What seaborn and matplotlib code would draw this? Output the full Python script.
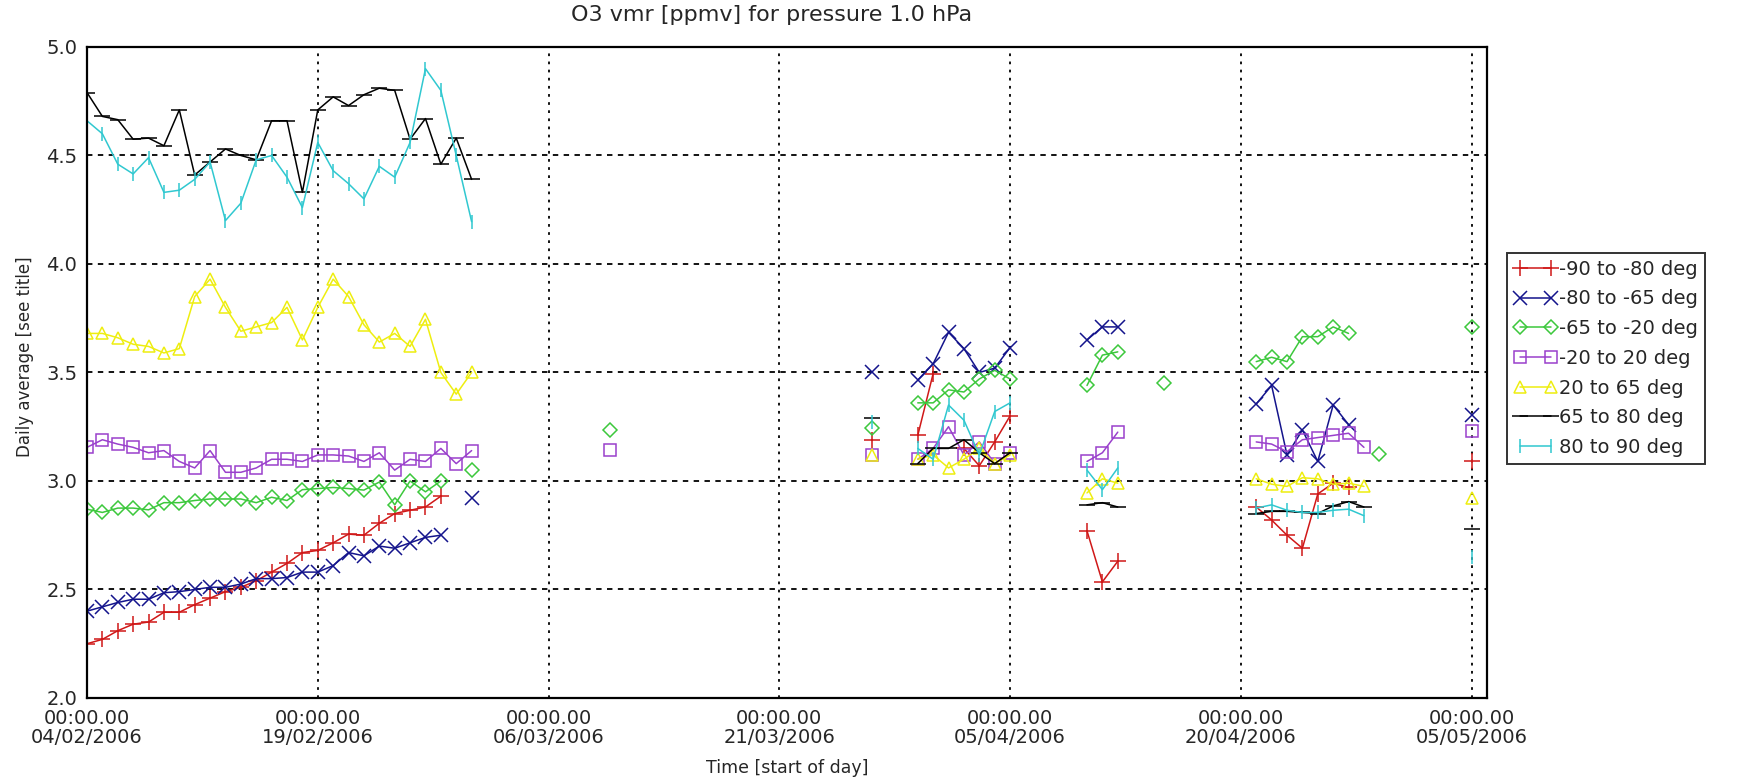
import numpy as np
import pandas as pd
import matplotlib
matplotlib.use("Agg")
import matplotlib.pyplot as plt
from matplotlib.lines import Line2D
import seaborn as sns

nan = np.nan

# days since 04/02/2006 that have at least one band with data
days = list(range(0, 26)) + [34, 51] + list(range(54, 61)) + [65, 66, 67, 70] + list(range(76, 85)) + [90]

band_m90_m80 = [2.25, 2.27, 2.31, 2.34, 2.35, 2.395, 2.395, 2.43, 2.46, 2.49, 2.51, 2.54, 2.58, 2.62, 2.67, 2.68,
                2.715, 2.755, 2.75, 2.805, 2.85, 2.865, 2.88, 2.93, nan, nan,
                nan, 3.19,
                3.21, 3.495, nan, 3.15, 3.07, 3.18, 3.30,
                2.77, 2.535, 2.63, nan,
                2.88, 2.82, 2.75, 2.69, 2.94, 2.99, 2.97, nan, nan,
                3.09]
band_m80_m65 = [2.40, 2.42, 2.44, 2.455, 2.455, 2.485, 2.49, 2.50, 2.51, 2.51, 2.525, 2.55, 2.55, 2.555, 2.58, 2.58,
                2.61, 2.67, 2.655, 2.70, 2.69, 2.715, 2.74, 2.75, nan, 2.92,
                nan, 3.50,
                3.465, 3.54, 3.685, 3.61, 3.50, 3.52, 3.615,
                3.65, 3.71, 3.71, nan,
                3.355, 3.44, 3.12, 3.235, 3.09, 3.35, 3.26, nan, nan,
                3.305]
band_m65_m20 = [2.87, 2.855, 2.875, 2.875, 2.867, 2.90, 2.90, 2.91, 2.917, 2.917, 2.917, 2.90, 2.925, 2.91, 2.96, 2.965,
                2.97, 2.965, 2.958, 2.995, 2.89, 3.00, 2.95, 3.00, nan, 3.05,
                3.237, 3.245,
                3.36, 3.36, 3.42, 3.41, 3.47, 3.51, 3.47,
                3.44, 3.58, 3.595, 3.45,
                3.55, 3.57, 3.55, 3.665, 3.665, 3.71, 3.68, nan, 3.125,
                3.71]
band_m20_20 = [3.155, 3.19, 3.17, 3.155, 3.13, 3.14, 3.09, 3.06, 3.14, 3.04, 3.04, 3.06, 3.10, 3.10, 3.09, 3.12,
               3.12, 3.115, 3.09, 3.13, 3.05, 3.10, 3.09, 3.15, 3.08, 3.14,
               3.143, 3.12,
               3.10, 3.15, 3.25, 3.12, 3.18, 3.08, 3.13,
               3.09, 3.13, 3.225, nan,
               3.18, 3.17, 3.135, 3.19, 3.20, 3.21, 3.22, 3.155, nan,
               3.23]
band_20_65 = [3.68, 3.68, 3.66, 3.63, 3.62, 3.59, 3.61, 3.85, 3.93, 3.80, 3.69, 3.71, 3.73, 3.80, 3.65, 3.80,
              3.93, 3.85, 3.72, 3.64, 3.68, 3.62, 3.745, 3.50, 3.40, 3.50,
              nan, 3.12,
              3.10, 3.12, 3.06, 3.10, 3.15, 3.08, 3.12,
              2.945, 3.01, 2.99, nan,
              3.01, 2.985, 2.975, 3.015, 3.01, 2.985, 2.99, 2.975, nan,
              2.92]
band_65_80 = [4.79, 4.68, 4.665, 4.575, 4.58, 4.545, 4.71, 4.41, 4.47, 4.53, 4.50, 4.48, 4.66, 4.66, 4.33, 4.71,
              4.77, 4.73, 4.78, 4.81, 4.80, 4.575, 4.67, 4.46, 4.58, 4.39,
              nan, 3.29,
              3.08, 3.15, 3.15, 3.19, 3.13, 3.08, 3.13,
              2.89, 2.90, 2.88, nan,
              2.85, 2.86, 2.86, 2.855, 2.85, 2.885, 2.905, 2.88, nan,
              2.78]
band_80_90 = [4.66, 4.60, 4.46, 4.415, 4.49, 4.33, 4.34, 4.39, 4.47, 4.20, 4.28, 4.48, 4.50, 4.40, 4.26, 4.56,
              4.43, 4.37, 4.30, 4.45, 4.40, 4.56, 4.90, 4.80, 4.50, 4.195,
              nan, 3.27,
              3.15, 3.10, 3.35, 3.28, 3.12, 3.32, 3.36,
              3.05, 2.96, 3.06, nan,
              2.875, 2.89, 2.865, 2.855, 2.855, 2.865, 2.87, 2.84, nan,
              2.65]

labels = ["-90 to -80 deg", "-80 to -65 deg", "-65 to -20 deg", "-20 to 20 deg",
          "20 to 65 deg", "65 to 80 deg", "80 to 90 deg"]
series = [band_m90_m80, band_m80_m65, band_m65_m20, band_m20_20, band_20_65, band_65_80, band_80_90]
colors = ["#d01818", "#14148c", "#3cc83c", "#9a40cc", "#eeee10", "#000000", "#30c8d0"]
markers = ["+", "x", "D", "s", "^", "_", "|"]
msizes = [11, 10, 7, 9, 8, 12, 10]

tick_days = [0, 15, 30, 45, 60, 75, 90]
tick_dates = ["04/02/2006", "19/02/2006", "06/03/2006", "21/03/2006",
              "05/04/2006", "20/04/2006", "05/05/2006"]

# long table, one line segment per run of consecutive days
frames = []
for name, vals in zip(labels, series):
    d = pd.DataFrame({"day": days, "o3": vals}).dropna()
    d["seg"] = (d["day"].diff() != 1).cumsum()
    d["band"] = name
    frames.append(d)
df = pd.concat(frames, ignore_index=True)

sns.set_style("white")
plt.rcParams["font.family"] = ["DejaVu Sans"]

fig = plt.figure(figsize=(17.4, 7.83), dpi=100)
ax = fig.add_axes([0.05, 0.1086, 0.8046, 0.8314])

for name, c, m, ms in zip(labels, colors, markers, msizes):
    sub = df[df["band"] == name]
    sns.lineplot(data=sub, x="day", y="o3", units="seg", estimator=None, sort=True,
                 color=c, marker=m, markersize=ms, markeredgecolor=c,
                 markerfacecolor="none", markeredgewidth=1.1, linewidth=1.1,
                 legend=False, ax=ax)

ax.set_xlim(0, 91)
ax.set_ylim(2.0, 5.0)
ax.set_xticks(tick_days)
ax.set_xticklabels(["00:00.00\n" + t for t in tick_dates], fontsize=14, linespacing=1.0)
ax.set_yticks(np.arange(2.0, 5.01, 0.5))
ax.set_yticklabels([f"{v:.1f}" for v in np.arange(2.0, 5.01, 0.5)], fontsize=14)
ax.tick_params(axis="both", length=0)
ax.tick_params(axis="x", pad=8)
ax.tick_params(axis="y", pad=7)

ax.xaxis.grid(True, color="k", linestyle=(0, (1.5, 3)), linewidth=1.3)
ax.yaxis.grid(True, color="k", linestyle=(0, (3, 3)), linewidth=1.3)
ax.set_axisbelow(True)
for sp in ax.spines.values():
    sp.set_color("k")
    sp.set_linewidth(1.6)

ax.set_xlabel("")
ax.set_ylabel("")
fig.text(25 / 1740, 1 - 357 / 783, "Daily average [see title]", rotation=90,
         ha="center", va="center", fontsize=12)
fig.text(787 / 1740, 1 - 768 / 783, "Time [start of day]", ha="center", va="center", fontsize=12.5)
fig.text(772 / 1740, 1 - 15 / 783, "O3 vmr [ppmv] for pressure 1.0 hPa", ha="center", va="center",
         fontsize=16)

handles = [Line2D([], [], color=c, marker=m, markersize=ms, markeredgecolor=c,
                  markerfacecolor="none", markeredgewidth=1.1, linewidth=1.1)
           for c, m, ms in zip(colors, markers, msizes)]
leg = fig.legend(handles, labels, loc="upper left", bbox_to_anchor=(1507 / 1740, 1 - 253 / 783),
                 numpoints=2, frameon=True, fancybox=False, edgecolor="k", fontsize=14,
                 handlelength=2.2, handletextpad=0.15, borderpad=0.35, labelspacing=0.55,
                 borderaxespad=0)
leg.get_frame().set_linewidth(1.4)

fig.savefig("out.png", dpi=100)
